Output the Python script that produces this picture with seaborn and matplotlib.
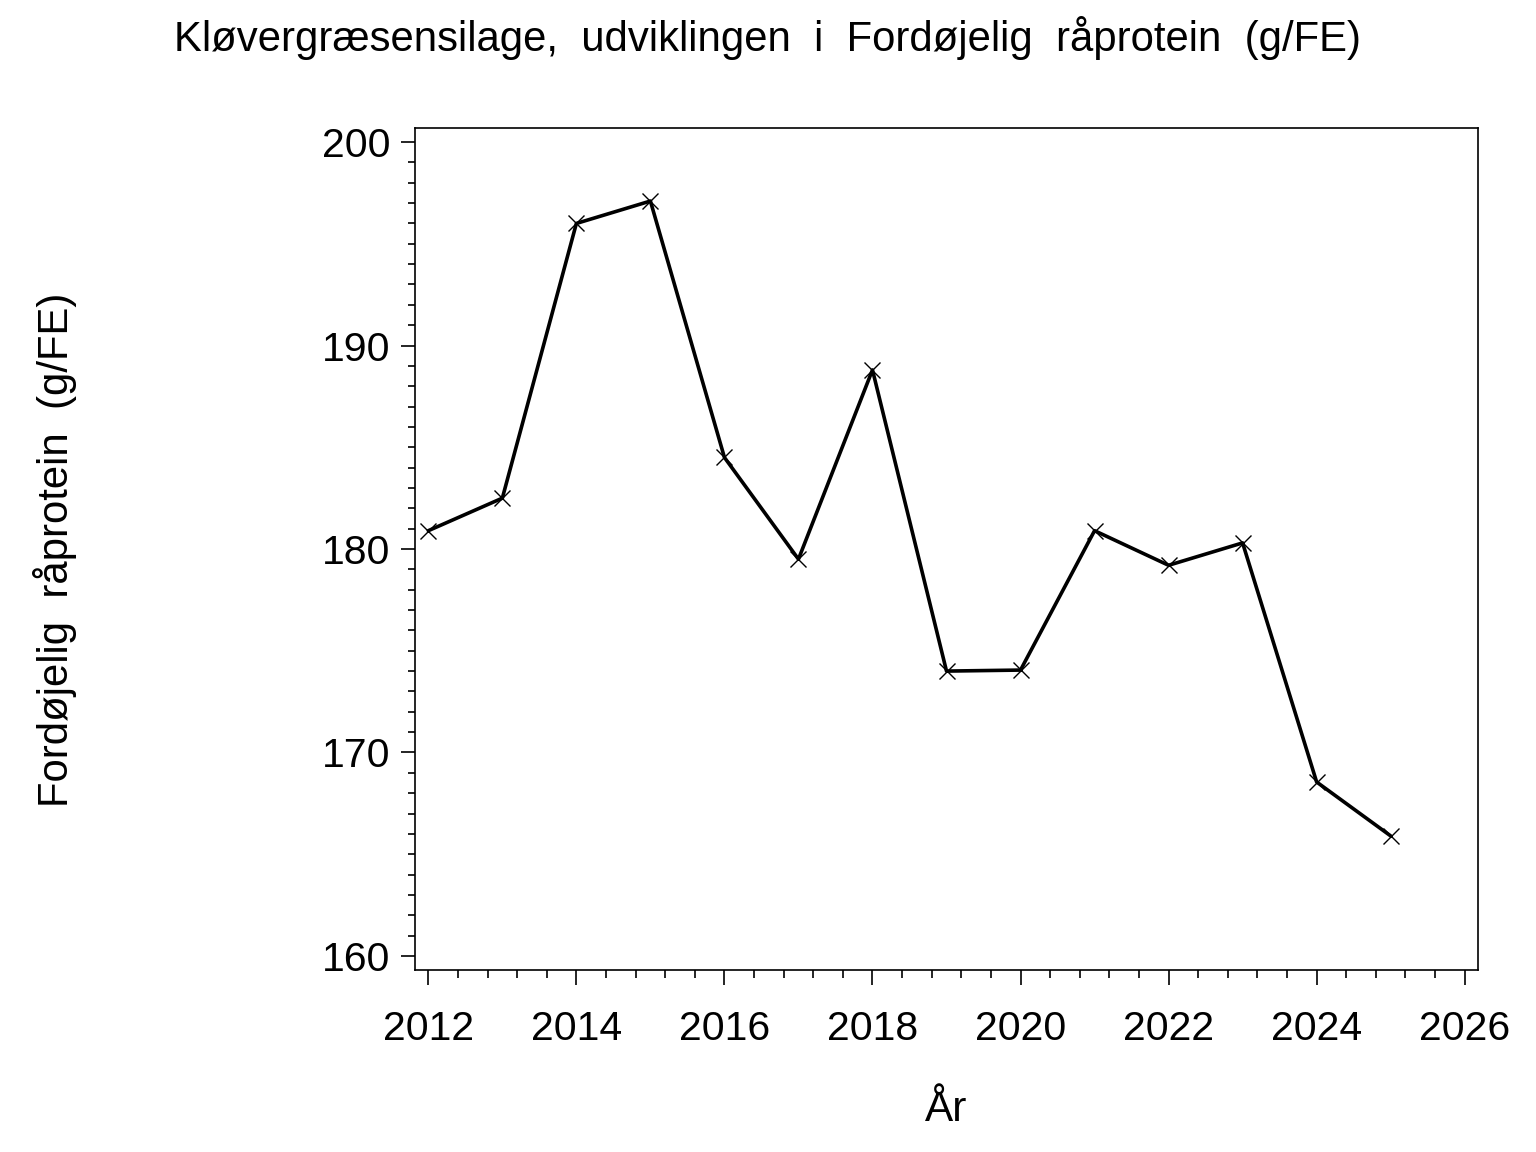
import numpy as np
import pandas as pd
import matplotlib
matplotlib.use("Agg")
import matplotlib.pyplot as plt
import seaborn as sns
from matplotlib.ticker import MultipleLocator

years = [2012, 2013, 2014, 2015, 2016, 2017, 2018, 2019, 2020, 2021, 2022, 2023, 2024, 2025]
values = [180.9, 182.5, 196.0, 197.1, 184.5, 179.5, 188.8, 174.0, 174.05, 180.9, 179.2, 180.3, 168.55, 165.9]

title = "Kløvergræsensilage,  udviklingen  i  Fordøjelig  råprotein  (g/FE)"
xlabel = "År"
ylabel = "Fordøjelig  råprotein  (g/FE)"

sns.set_style("ticks")
plt.rcParams['font.family'] = ['Liberation Sans', 'DejaVu Sans']
plt.rcParams['text.color'] = 'black'
plt.rcParams['xtick.color'] = 'black'
plt.rcParams['ytick.color'] = 'black'

df = pd.DataFrame({"year": years, "value": values})

fig = plt.figure(figsize=(15.36, 11.52), dpi=100)
ax = fig.add_axes([415/1536, 1 - 970/1152, (1478-415)/1536, (970-128)/1152])

sns.lineplot(data=df, x="year", y="value", ax=ax, color="black", linewidth=2.6,
             marker="x", markersize=11, markeredgewidth=1.0, markeredgecolor="black")

ax.set_xlim(2011.82, 2026.18)
ax.set_ylim(159.31, 200.69)
ax.xaxis.set_major_locator(MultipleLocator(2))
ax.xaxis.set_minor_locator(MultipleLocator(0.4))
ax.yaxis.set_major_locator(MultipleLocator(10))
ax.yaxis.set_minor_locator(MultipleLocator(1))
ax.tick_params(axis='x', which='major', length=11, width=1.2, labelsize=29.5, pad=18, color='black', labelcolor='black')
ax.tick_params(axis='x', which='minor', length=6, width=1.2, color='black')
ax.tick_params(axis='y', which='major', length=10, width=1.2, labelsize=29.5, pad=8, color='black', labelcolor='black')
ax.tick_params(axis='y', which='minor', length=5, width=1.2, color='black')
for s in ax.spines.values():
    s.set_linewidth(1.2)
    s.set_color('black')
ax.set_xlabel("")
ax.set_ylabel("")

fig.text(768/1536, 1 - 38/1152, title, ha='center', va='center', fontsize=30.2, color='black')
fig.text(946/1536, 1 - 1110/1152, xlabel, ha='center', va='center', fontsize=30.5, color='black')
fig.text(55/1536, 1 - 550/1152, ylabel, ha='center', va='center', rotation=90, fontsize=30.2, color='black')

fig.savefig("out.png", dpi=100, facecolor='white')
